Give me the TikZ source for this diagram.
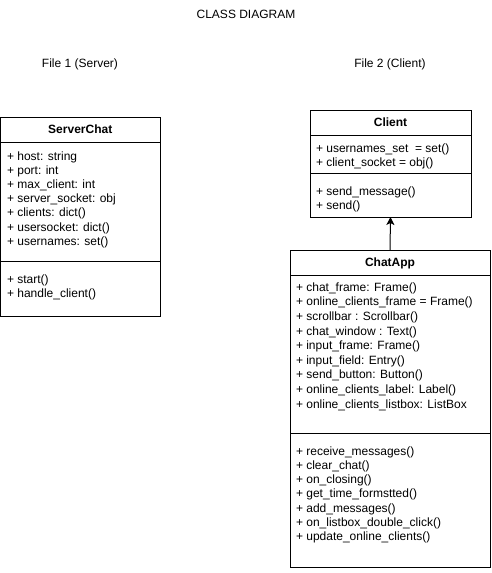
\documentclass[tikz,border=0pt]{standalone}
\usepackage{fontspec}
\setmainfont{Liberation Sans}
\usetikzlibrary{arrows.meta}
\begin{document}
\begin{tikzpicture}[x=1pt,y=-1pt,
  every node/.style={font=\fontsize{12}{14.2}\selectfont, inner sep=0pt, outer sep=0pt},
  classbox/.style={draw, line width=1pt, anchor=north west},
  header/.style={font=\fontsize{12}{14.2}\selectfont\bfseries, anchor=base},
  members/.style={align=left, anchor=north west},
  plain/.style={anchor=base},
  sep/.style={line width=1pt},
  inherit/.style={line width=1pt, -{Stealth[length=8pt,width=8pt,inset=2pt]}}]
\useasboundingbox (0,0) rectangle (492,573);
\fill[white] (0,0) rectangle (492,573);

% titles
\node[plain] (title) at (246,18.3) {CLASS DIAGRAM};
\node[plain] (file1) at (80,67.5) {File 1 (Server)};
\node[plain] (file2) at (390,67.5) {File 2 (Client)};

% ServerChat
\node[classbox, minimum width=159.5pt, minimum height=199pt] (server) at (0.5,117) {};
\draw[sep] (server.west |- 0,142) -- (server.east |- 0,142);
\draw[sep] (server.west |- 0,261) -- (server.east |- 0,261);
\node[header] (serverh) at (80.25,133.8) {ServerChat};
\node[members] (servera) at (7,151.5) {+ host: string\\+ port: int\\+ max\_client: int\\+ server\_socket: obj\\+ clients: dict()\\+ usersocket: dict()\\+ usernames: set()};
\node[members] (serverm) at (7,274.5) {+ start()\\+ handle\_client()};

% Client
\node[classbox, minimum width=161pt, minimum height=107pt] (client) at (310,110) {};
\draw[sep] (client.west |- 0,135) -- (client.east |- 0,135);
\draw[sep] (client.west |- 0,173) -- (client.east |- 0,173);
\node[header] (clienth) at (390.5,126.8) {Client};
\node[members] (clienta) at (316,143.5) {+ usernames\_set\ \ = set()\\+ client\_socket = obj()};
\node[members] (clientm) at (316,186.5) {+ send\_message()\\+ send()};

% ChatApp
\node[classbox, minimum width=200pt, minimum height=317pt] (chatapp) at (290,250) {};
\draw[sep] (chatapp.west |- 0,275) -- (chatapp.east |- 0,275);
\draw[sep] (chatapp.west |- 0,433) -- (chatapp.east |- 0,433);
\node[header] (chatapph) at (390,266.8) {ChatApp};
\node[members, font=\fontsize{12}{14.6}\selectfont] (chatappa) at (296,282.5) {+ chat\_frame: Frame()\\+ online\_clients\_frame = Frame()\\+ scrollbar : Scrollbar()\\+ chat\_window : Text()\\+ input\_frame: Frame()\\+ input\_field: Entry()\\+ send\_button: Button()\\+ online\_clients\_label: Label()\\+ online\_clients\_listbox: ListBox};
\node[members] (chatappm) at (296,446.5) {+ receive\_messages()\\+ clear\_chat()\\+ on\_closing()\\+ get\_time\_formstted()\\+ add\_messages()\\+ on\_listbox\_double\_click()\\+ update\_online\_clients()};

% inheritance
\draw[inherit] (chatapp.north) -- (client.south);
\end{tikzpicture}
\end{document}
